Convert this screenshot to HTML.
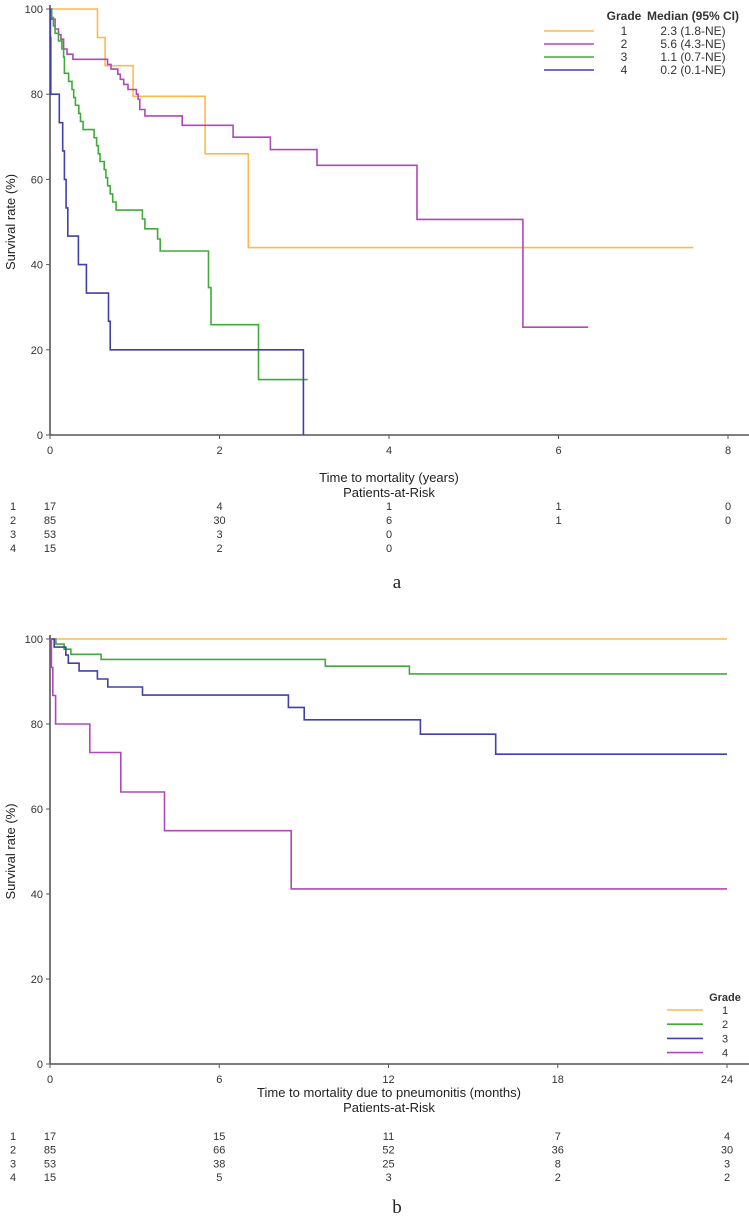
<!DOCTYPE html>
<html><head><meta charset="utf-8">
<style>
html,body{margin:0;padding:0;background:#fff;}
svg{display:block;font-family:"Liberation Sans",sans-serif;}
.tk{font-size:11px;fill:#333;}
.rk{font-size:11px;fill:#333;}
.ttl{font-size:13px;fill:#222;}
.lg{font-size:12px;fill:#333;}
</style></head>
<body>
<svg id="fig" width="749" height="1218" viewBox="0 0 749 1218">
<g id="chartA"></g>
<g id="chartB"></g>
<text x="397" y="588" text-anchor="middle" style="font-family:'Liberation Serif',serif;font-size:19px" fill="#222">a</text>
<text x="397" y="1213" text-anchor="middle" style="font-family:'Liberation Serif',serif;font-size:19px" fill="#222">b</text>
</svg>
<script>
// ---- Chart A data (years) ----
const aGrades = ["1","2","3","4"];
const aMedians = ["2.3 (1.8-NE)","5.6 (4.3-NE)","1.1 (0.7-NE)","0.2 (0.1-NE)"];
const aG1t = [0,0.56,0.65,0.98,1.83,2.34,7.59];
const aG1s = [100,93.3,86.7,79.5,66,44,44];
const aG2t = [0,0.02,0.06,0.1,0.13,0.16,0.2,0.27,0.68,0.72,0.8,0.83,0.87,0.92,1.02,1.04,1.06,1.12,1.56,2.16,2.6,3.15,4.33,5.58,6.35];
const aG2s = [100,97.6,95.3,94,92.9,90.6,89.4,88.2,87,85.9,84.7,83.5,82.3,81.1,80,78.8,76.4,74.9,72.7,69.9,67,63.3,50.6,25.3,25.3];
const aG3t = [0,0.02,0.04,0.06,0.1,0.14,0.16,0.17,0.22,0.26,0.28,0.3,0.34,0.36,0.39,0.52,0.55,0.57,0.59,0.64,0.66,0.68,0.71,0.74,0.78,1.09,1.12,1.27,1.3,1.87,1.9,2.46,3.04];
const aG3s = [100,98,96,94.3,92.5,90.6,88.7,84.9,83,81.1,79.2,77.4,75.5,73.6,71.7,69.8,67.9,66,64.2,62.3,60.4,58.5,56.6,54.7,52.8,50.7,48.4,46,43.2,34.6,25.9,13,13];
const aG4t = [0,0.005,0.01,0.11,0.15,0.17,0.19,0.21,0.335,0.43,0.69,0.71,2.99];
const aG4s = [100,93.3,80,73.3,66.7,60,53.3,46.7,40,33.3,26.7,20,0];
const aXTicks = [0,2,4,6,8];
const aYTicks = [0,20,40,60,80,100];
const aRisk1 = ["17","4","1","1","0"];
const aRisk2 = ["85","30","6","1","0"];
const aRisk3 = ["53","3","0"];
const aRisk4 = ["15","2","0"];

// ---- Chart B data (months) ----
const bGrades = ["1","2","3","4"];
const bG1t = [0,24];
const bG1s = [100,100];
const bG2t = [0,0.21,0.5,0.74,1.81,9.76,12.74,24];
const bG2s = [100,98.8,97.6,96.4,95.2,93.6,91.8,91.8];
const bG3t = [0,0.15,0.56,0.65,1.03,1.68,2.05,3.28,8.45,9.01,13.13,15.8,24];
const bG3s = [100,98.1,96.2,94.3,92.5,90.6,88.7,86.8,83.9,81,77.6,72.9,72.9];
const bG4t = [0,0.05,0.1,0.2,1.41,2.51,4.06,8.55,24];
const bG4s = [100,93.3,86.7,80,73.3,64,54.9,41.2,41.2];
const bXTicks = [0,6,12,18,24];
const bYTicks = [0,20,40,60,80,100];
const bRisk1 = ["17","15","11","7","4"];
const bRisk2 = ["85","66","52","36","30"];
const bRisk3 = ["53","38","25","8","3"];
const bRisk4 = ["15","5","3","2","2"];

const NS="http://www.w3.org/2000/svg";
const C_OR="#fdb94b", C_PU="#b048b8", C_GR="#40ab3c", C_BL="#4040a8";

function mk(parent, tag, attrs, txt){
  const e=document.createElementNS(NS,tag);
  for(const k in attrs) e.setAttribute(k,attrs[k]);
  if(txt!==undefined) e.textContent=txt;
  parent.appendChild(e); return e;
}
function stepPath(ts, ss, xs, ys){
  let d="M"+xs(ts[0]).toFixed(1)+","+ys(ss[0]).toFixed(1);
  for(let i=1;i<ts.length;i++){
    d+=" H"+xs(ts[i]).toFixed(1)+" V"+ys(ss[i]).toFixed(1);
  }
  return d;
}

function drawChart(g, cfg){
  const xs=t=>cfg.x0+(t-cfg.tmin)*(cfg.x1-cfg.x0)/(cfg.tmax-cfg.tmin);
  const ys=v=>cfg.y0-v*(cfg.y0-cfg.y100)/100;
  // axes
  const ya=mk(g,"line",{x1:cfg.x0,y1:cfg.y100-4,x2:cfg.x0,y2:cfg.y0,stroke:"#555","stroke-width":1.6});
  
  
  const xa=mk(g,"line",{x1:cfg.x0,y1:cfg.y0,x2:749,y2:cfg.y0,stroke:"#555","stroke-width":1.6});
  
  
  cfg.yticks.forEach(v=>{
    mk(g,"line",{x1:cfg.x0-4,y1:ys(v),x2:cfg.x0,y2:ys(v),stroke:"#555","stroke-width":1});
    const t=mk(g,"text",{x:cfg.x0-7,y:ys(v)+4,"text-anchor":"end",class:"tk"},String(v));
    
    
  });
  cfg.xticks.forEach(v=>{
    mk(g,"line",{x1:xs(v),y1:cfg.y0,x2:xs(v),y2:cfg.y0+4,stroke:"#555","stroke-width":1});
    const t=mk(g,"text",{x:xs(v),y:cfg.y0+19,"text-anchor":"middle",class:"tk"},String(v));
    
    
  });
  const yt=mk(g,"text",{x:0,y:0,transform:"translate(15,"+((cfg.y0+cfg.y100)/2)+") rotate(-90)","text-anchor":"middle",class:"ttl"},"Survival rate (%)");
  
  
  const xt=mk(g,"text",{x:cfg.titleX,y:cfg.titleY,"text-anchor":"middle",class:"ttl"},cfg.xtitle);
  
  
  // series
  cfg.series.forEach(s=>{
    const p=mk(g,"path",{d:stepPath(s.t,s.s,xs,ys),fill:"none",stroke:s.c,"stroke-width":1.6});
    
    
  });
  // risk table
  const ph=mk(g,"text",{x:cfg.titleX,y:cfg.riskHeadY,"text-anchor":"middle",class:"ttl"},"Patients-at-Risk");
  
  
  cfg.risk.forEach((row,i)=>{
    const y=cfg.riskY0+i*cfg.riskDy;
    const gl=mk(g,"text",{x:13,y:y+4,"text-anchor":"middle",class:"rk"},String(i+1));
    
    
    row.forEach((v,j)=>{
      const t=mk(g,"text",{x:xs(cfg.xticks[j]),y:y+4,"text-anchor":"middle",class:"rk"},v);
      
      
    });
  });
  return {xs,ys};
}

const gA=document.getElementById("chartA");
drawChart(gA,{x0:50,x1:728,tmin:0,tmax:8,y0:435,y100:9,
  xticks:aXTicks,yticks:aYTicks,xtitle:"Time to mortality (years)",titleX:389,titleY:482,
  riskHeadY:497,riskY0:506,riskDy:14,risk:[aRisk1,aRisk2,aRisk3,aRisk4],
  series:[{name:"1",t:aG1t,s:aG1s,c:C_OR},{name:"2",t:aG2t,s:aG2s,c:C_PU},{name:"3",t:aG3t,s:aG3s,c:C_GR},{name:"4",t:aG4t,s:aG4s,c:C_BL}]});
// legend A
const aCols=[C_OR,C_PU,C_GR,C_BL];
const lgA=mk(gA,"g",{});


mk(lgA,"text",{x:624,y:20,"text-anchor":"middle",class:"lg","font-weight":"bold"},"Grade");
mk(lgA,"text",{x:693,y:20,"text-anchor":"middle",class:"lg","font-weight":"bold"},"Median (95% CI)");
aGrades.forEach((gr,i)=>{
  const y=31+i*13;
  const e=mk(lgA,"g",{});
  
  
  mk(e,"line",{x1:544,y1:y,x2:594,y2:y,stroke:aCols[i],"stroke-width":1.6});
  mk(e,"text",{x:624,y:y+4,"text-anchor":"middle",class:"lg"},gr);
  mk(e,"text",{x:693,y:y+4,"text-anchor":"middle",class:"lg"},aMedians[i]);
});

const gB=document.getElementById("chartB");
drawChart(gB,{x0:50,x1:727,tmin:0,tmax:24,y0:1064,y100:639,
  xticks:bXTicks,yticks:bYTicks,xtitle:"Time to mortality due to pneumonitis (months)",titleX:389,titleY:1097,
  riskHeadY:1112,riskY0:1136,riskDy:13.7,risk:[bRisk1,bRisk2,bRisk3,bRisk4],
  series:[{name:"1",t:bG1t,s:bG1s,c:C_OR},{name:"2",t:bG2t,s:bG2s,c:C_GR},{name:"3",t:bG3t,s:bG3s,c:C_BL},{name:"4",t:bG4t,s:bG4s,c:C_PU}]});
// legend B
const bCols=[C_OR,C_GR,C_BL,C_PU];
const lgB=mk(gB,"g",{});


mk(lgB,"text",{x:725,y:1001,"text-anchor":"middle",class:"rk","font-weight":"bold"},"Grade");
bGrades.forEach((gr,i)=>{
  const y=1010+i*14.2;
  const e=mk(lgB,"g",{});
  
  
  mk(e,"line",{x1:667,y1:y,x2:703,y2:y,stroke:bCols[i],"stroke-width":1.6});
  mk(e,"text",{x:725,y:y+4,"text-anchor":"middle",class:"rk"},gr);
});
</script>
</body></html>
